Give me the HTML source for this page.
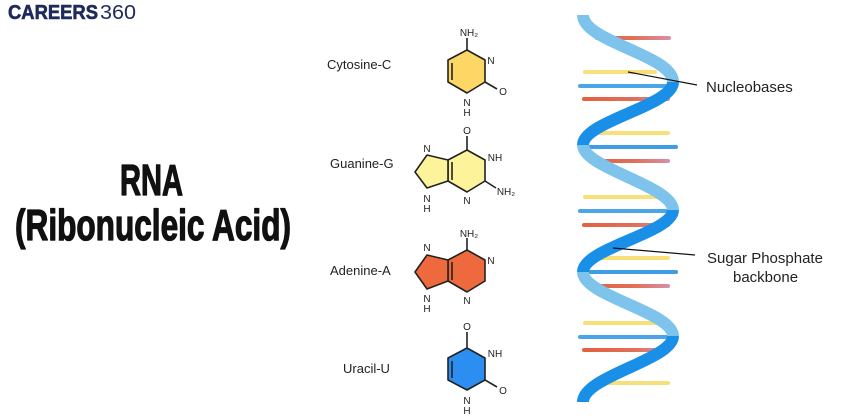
<!DOCTYPE html>
<html><head><meta charset="utf-8"><style>
html,body{margin:0;padding:0;background:#fff;}
svg{display:block;}
</style></head><body>
<svg width="841" height="416" viewBox="0 0 841 416" xmlns="http://www.w3.org/2000/svg" font-family="'Liberation Sans',sans-serif">
<defs>
<linearGradient id="rg" gradientUnits="userSpaceOnUse" x1="584" x2="670" y1="0" y2="0"><stop offset="0" stop-color="#e5603f"/><stop offset="0.6" stop-color="#e0705a"/><stop offset="1" stop-color="#d88fa8"/></linearGradient>
</defs>
<text x="8" y="19" font-size="20" font-weight="bold" fill="#1f2a5c" stroke="#1f2a5c" stroke-width="0.6" textLength="90" lengthAdjust="spacingAndGlyphs">CAREERS</text>
<text x="100" y="19" font-size="20" fill="#1f2a5c" textLength="36" lengthAdjust="spacingAndGlyphs">360</text>
<g font-weight="bold" fill="#111" stroke="#111" stroke-width="1.3" stroke-linejoin="round">
<text x="120" y="195" font-size="44" textLength="63" lengthAdjust="spacingAndGlyphs">RNA</text>
<text x="15" y="240" font-size="44" textLength="276" lengthAdjust="spacingAndGlyphs">(Ribonucleic Acid)</text>
</g>
<g font-size="13" fill="#222">
<text x="327" y="69">Cytosine-C</text>
<text x="330" y="168">Guanine-G</text>
<text x="330" y="275">Adenine-A</text>
<text x="343" y="373">Uracil-U</text>
</g>
<g stroke="#222" stroke-width="1.6" stroke-linejoin="round">
<polygon points="467,50 485,60 485,82 467,93 448,82 448,60" fill="#fdd766"/>
<line x1="467" y1="50" x2="467" y2="38"/><line x1="485" y1="82" x2="497" y2="89"/><line x1="452" y1="63" x2="452" y2="80"/>
<polygon points="467,150 485,160 485,181 467,192 448,181 448,160" fill="#fcf39a"/>
<polygon points="448,160 427,155 415,172 427,188 448,181" fill="#fcf39a"/>
<line x1="467" y1="150" x2="467" y2="136"/><line x1="485" y1="181" x2="496" y2="188"/><line x1="452" y1="162" x2="452" y2="180"/>
<polygon points="467,250 485,260 485,281 467,292 448,281 448,260" fill="#ee6a3e"/>
<polygon points="448,260 427,255 415,272 427,289 448,281" fill="#ee6a3e"/>
<line x1="467" y1="250" x2="467" y2="238"/><line x1="452" y1="262" x2="452" y2="280"/>
<polygon points="467,348 485,358 485,380 467,390 448,380 448,358" fill="#2b8ef0"/>
<line x1="467" y1="348" x2="467" y2="332"/><line x1="485" y1="380" x2="497" y2="387"/><line x1="452" y1="361" x2="452" y2="378"/>
</g>
<g font-size="10" fill="#222" text-anchor="middle">
<text x="469" y="36">NH₂</text><text x="491" y="64">N</text><text x="503" y="95">O</text><text x="467" y="106">N</text><text x="467" y="116">H</text>
<text x="467" y="134">O</text><text x="495" y="161">NH</text><text x="506" y="195">NH₂</text><text x="467" y="204">N</text><text x="427" y="152">N</text><text x="427" y="202">N</text><text x="427" y="212">H</text>
<text x="469" y="237">NH₂</text><text x="491" y="264">N</text><text x="467" y="304">N</text><text x="427" y="251">N</text><text x="427" y="302">N</text><text x="427" y="312">H</text>
<text x="467" y="330">O</text><text x="495" y="357">NH</text><text x="503" y="394">O</text><text x="467" y="404">N</text><text x="467" y="414">H</text>
</g>
<g stroke-width="4" stroke-linecap="round">
<line x1="597" y1="38" x2="669" y2="38" stroke="url(#rg)"/>
<line x1="585" y1="72" x2="655" y2="72" stroke="#f7e07a"/>
<line x1="580" y1="86" x2="676" y2="86" stroke="#4aa6e8"/>
<line x1="584" y1="99" x2="668" y2="99" stroke="url(#rg)"/>
<line x1="600" y1="133" x2="668" y2="133" stroke="#f7e07a"/>
<line x1="582" y1="147" x2="676" y2="147" stroke="#3f9de6"/>
<line x1="596" y1="161" x2="668" y2="161" stroke="url(#rg)"/>
<line x1="585" y1="197" x2="660" y2="197" stroke="#f7e07a"/>
<line x1="580" y1="211" x2="676" y2="211" stroke="#4aa6e8"/>
<line x1="584" y1="225" x2="668" y2="225" stroke="url(#rg)"/>
<line x1="600" y1="258" x2="668" y2="258" stroke="#f7e07a"/>
<line x1="582" y1="272" x2="676" y2="272" stroke="#3f9de6"/>
<line x1="596" y1="286" x2="668" y2="286" stroke="url(#rg)"/>
<line x1="585" y1="323" x2="660" y2="323" stroke="#f7e07a"/>
<line x1="580" y1="337" x2="676" y2="337" stroke="#4aa6e8"/>
<line x1="584" y1="350" x2="668" y2="350" stroke="url(#rg)"/>
<line x1="600" y1="383" x2="668" y2="383" stroke="#f7e07a"/>
</g>
<g fill="none" stroke-width="12">
<path d="M583,15 C583,42 673,55 673,82" stroke="#7ec3ec"/>
<path d="M583,145 C583,168 673,186 673,210" stroke="#7ec3ec"/>
<path d="M583,272 C583,296 673,312 673,336" stroke="#7ec3ec"/>
<path d="M673,82 C673,106 583,121 583,145" stroke="#1a8fe8"/>
<path d="M673,210 C673,233 583,248 583,272" stroke="#1a8fe8"/>
<path d="M673,336 C673,360 583,376 583,402" stroke="#1a8fe8"/>
</g>
<g stroke="#111" stroke-width="1.2">
<line x1="628" y1="72" x2="697" y2="85"/>
<line x1="613" y1="248" x2="695" y2="255"/>
</g>
<g font-size="15" fill="#222">
<text x="706" y="92">Nucleobases</text>
<text x="707" y="263">Sugar Phosphate</text>
<text x="733" y="282">backbone</text>
</g>
</svg>
</body></html>
